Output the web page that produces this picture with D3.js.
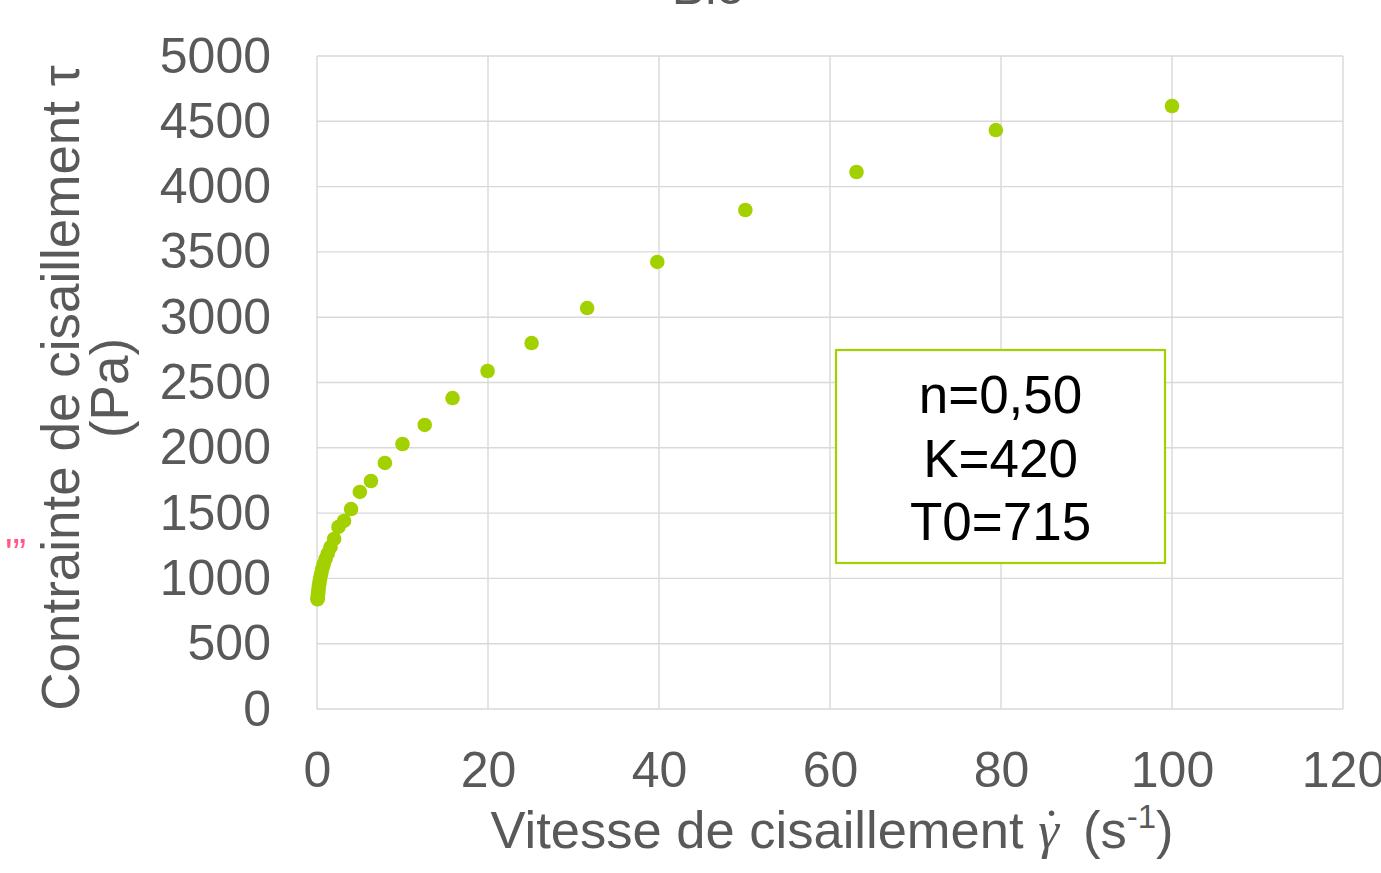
<!DOCTYPE html>
<html><head><meta charset="utf-8">
<script src="https://cdn.jsdelivr.net/npm/d3@7"></script>
<style>
html,body{margin:0;padding:0;background:#fff;}
svg text{font-family:"Liberation Sans",Arial,sans-serif;}
</style></head>
<body>
<script>
// Data
const shearRate = [100, 79.4, 63.1, 50.1, 39.8, 31.6, 25.1, 19.95, 15.85, 12.6, 10, 7.94, 6.31, 5.01, 3.98, 3.16, 2.51, 2.0, 1.58, 1.26, 1.0, 0.79, 0.63, 0.5, 0.4, 0.32, 0.25, 0.2, 0.16, 0.126, 0.1, 0.079, 0.063];
const shearStress = [4617, 4433, 4112, 3821, 3423, 3070, 2802, 2588, 2381, 2175, 2029, 1884, 1746, 1662, 1531, 1440, 1394, 1302, 1240, 1190, 1150, 1110, 1075, 1040, 1010, 980, 955, 930, 905, 885, 865, 850, 840];
const xTicks = [0, 20, 40, 60, 80, 100, 120];
const yTicks = [0, 500, 1000, 1500, 2000, 2500, 3000, 3500, 4000, 4500, 5000];
const boxLines = ["n=0,50", "K=420", "T0=715"];
const title = "Blé";

const W = 1381, H = 873;
const svg = d3.select("body").append("svg").attr("width", W).attr("height", H);

const x = d3.scaleLinear().domain([0, 120]).range([317, 1343]);
const y = d3.scaleLinear().domain([0, 5000]).range([709, 56]);
const grey = "#595959", gridC = "#d9d9d9", green = "#a3d100";

// gridlines
svg.append("g").selectAll("line").data(yTicks).join("line")
  .attr("x1", x(0)).attr("x2", x(120)).attr("y1", d => y(d)).attr("y2", d => y(d))
  .attr("stroke", gridC).attr("stroke-width", 1.4);
svg.append("g").selectAll("line").data(xTicks).join("line")
  .attr("y1", y(0)).attr("y2", y(5000)).attr("x1", d => x(d)).attr("x2", d => x(d))
  .attr("stroke", gridC).attr("stroke-width", 1.4);

// axes (labels only)
const yAxis = svg.append("g").attr("transform", `translate(${x(0)},0)`)
  .call(d3.axisLeft(y).tickValues(yTicks).tickSize(0).tickPadding(46).tickFormat(d3.format("d")));
const xAxis = svg.append("g").attr("transform", `translate(0,${y(0)})`)
  .call(d3.axisBottom(x).tickValues(xTicks).tickSize(0).tickPadding(42).tickFormat(d3.format("d")));
[yAxis, xAxis].forEach(a => {
  a.select(".domain").remove();
  a.selectAll("text").attr("fill", grey).attr("font-size", 50)
    .attr("font-family", '"Liberation Sans",Arial,sans-serif');
});

// points
const pts = shearRate.map((g, i) => ({g, t: shearStress[i]}));
svg.append("g").selectAll("circle").data(pts).join("circle")
  .attr("cx", d => x(d.g)).attr("cy", d => y(d.t)).attr("r", 7.3).attr("fill", green);

// annotation box
const bx = 836, by = 350, bw = 329, bh = 213;
svg.append("rect").attr("x", bx).attr("y", by).attr("width", bw).attr("height", bh)
  .attr("fill", "#fff").attr("stroke", green).attr("stroke-width", 2.2);
svg.append("g").selectAll("text").data(boxLines).join("text")
  .attr("x", bx + bw / 2).attr("y", (d, i) => 413 + i * 63.5)
  .attr("text-anchor", "middle").attr("font-size", 53).attr("fill", "#000").text(d => d);

// title (cut at top)
svg.append("text").attr("x", 708).attr("y", 4).attr("text-anchor", "middle")
  .attr("font-size", 50).attr("fill", grey).text(title);

// stray pink text at left edge
svg.append("text").attr("x", 26).attr("y", 567).attr("text-anchor", "end")
  .attr("font-size", 40).attr("fill", "#ff5a85").text("'\u201D");

// y axis title
const yt = svg.append("text").attr("transform", "translate(79,388) rotate(-90)")
  .attr("text-anchor", "middle").attr("font-size", 53).attr("fill", grey);
yt.append("tspan").attr("x", 0).attr("dy", 0).text("Contrainte de cisaillement \u03C4");
yt.append("tspan").attr("x", 0).attr("dy", 49).text("(Pa)");

// x axis title
const xt = svg.append("text").attr("x", 832).attr("y", 848).attr("text-anchor", "middle")
  .attr("font-size", 52.5).attr("fill", grey);
xt.append("tspan").text("Vitesse de cisaillement ");
xt.append("tspan").attr("font-family", '"Liberation Serif","DejaVu Serif",serif').attr("font-style", "italic").text("\u03B3");
xt.append("tspan").attr("font-family", '"Liberation Serif","DejaVu Serif",serif').attr("dx", -16).attr("dy", -2).text("\u02D9");
xt.append("tspan").attr("dx", 8).attr("dy", 2).text("\u00A0(s");
xt.append("tspan").attr("font-size", 33).attr("dy", -20).text("-1");
xt.append("tspan").attr("dy", 20).text(")");
</script>
</body></html>
